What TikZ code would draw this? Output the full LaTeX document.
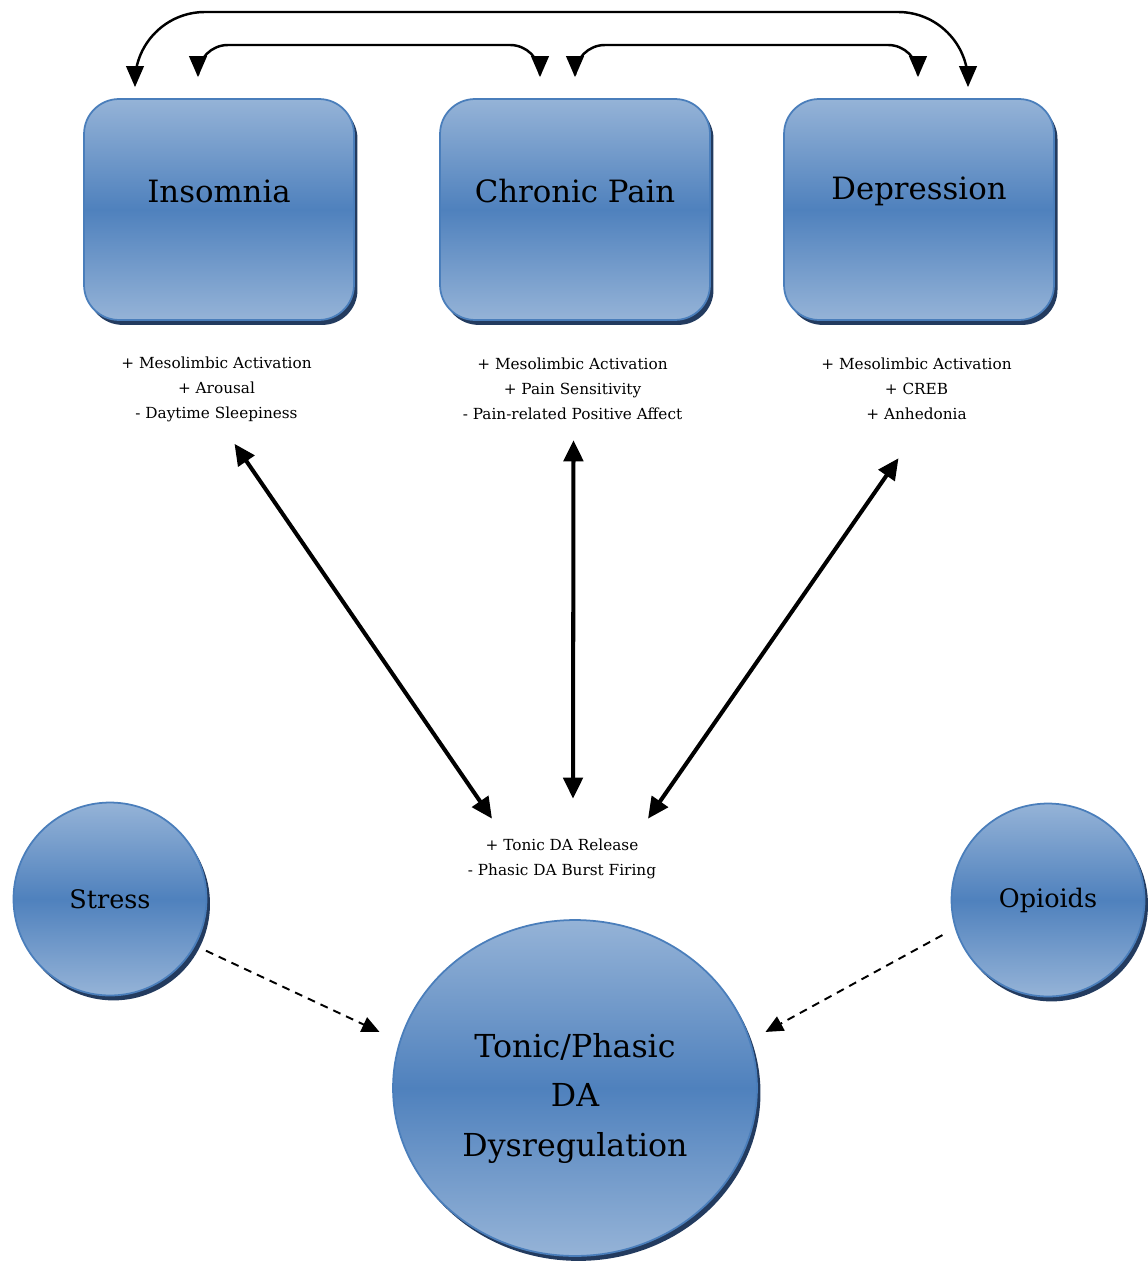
\documentclass[tikz,border=0pt]{standalone}
\usepackage{fontspec}
\setmainfont{DejaVu Serif}
\usepackage{tikz}
\usetikzlibrary{arrows.meta,shadows,shapes.geometric}
\definecolor{boxlight}{HTML}{95B3D7}
\definecolor{boxmid}{HTML}{4F81BD}
\definecolor{boxedge}{HTML}{4A7EBB}
\definecolor{boxshade}{HTML}{233B5F}

\begin{document}
\begin{tikzpicture}[x=0.02cm, y=-0.02cm,
  blob/.style={draw=boxedge, line width=1pt, top color=boxlight, bottom color=boxlight, middle color=boxmid,
    drop shadow={shadow xshift=2pt, shadow yshift=-2.8pt, fill=boxshade, opacity=1}},
  boxnode/.style={blob, rounded corners=0.7cm, minimum width=5.4cm, minimum height=4.42cm},
  dotnode/.style={blob, circle, minimum size=3.86cm, inner sep=0pt, font=\fontsize{14.5}{18}\selectfont},
  effect/.style={align=center, inner sep=0pt, font=\fontsize{8.7}{14.2}\selectfont},
  curvy/.style={line width=1.4pt, {Triangle[length=12pt,width=10pt]}-{Triangle[length=12pt,width=10pt]}},
  link/.style={line width=2.3pt, {Triangle[length=12pt,width=11pt]}-{Triangle[length=12pt,width=11pt]}},
  feed/.style={line width=1.1pt, dash pattern=on 4.5pt off 3.5pt, -{Triangle[length=10pt,width=9pt]}}]

  \useasboundingbox (0,0) rectangle (1147,1263);

  \foreach \n/\x/\t/\e in {ins/219/Insomnia/{+ Mesolimbic Activation\\+ Arousal\\- Daytime Sleepiness},
      pain/575/Chronic Pain/{+ Mesolimbic Activation\\+ Pain Sensitivity\\- Pain-related Positive Affect},
      dep/919/Depression/{+ Mesolimbic Activation\\+ CREB\\+ Anhedonia}} {
    \node[boxnode, label={[font=\fontsize{17.5}{22}\selectfont, yshift=0.37cm]center:\t}] (\n) at (\x, 209.5) {};
    \node[effect] (\n-fx) at (\x-2.5, 389) {\e};
  }

  \node[effect] (da) at (562, 859) {+ Tonic DA Release\\- Phasic DA Burst Firing};

  \node[dotnode] (stress) at (110, 899) {Stress};
  \node[dotnode] (opioids) at (1048, 900) {\raisebox{3pt}{Opioids}};
  \node[blob, ellipse, minimum width=7.28cm, minimum height=6.72cm, inner sep=0pt, align=center,
    font=\fontsize{18}{28.4}\selectfont] (dys) at (575, 1088) {\\[-0.3ex]Tonic/Phasic\\DA\\Dysregulation};

  \coordinate (outer) at (0, 12);
  \coordinate (inner) at (0, 45);
  \coordinate (ins-o) at ([shift={(-84,-11)}]ins.north);
  \coordinate (dep-o) at ([shift={(49,-11)}]dep.north);
  \coordinate (ins-i) at ([shift={(-21,-21)}]ins.north);
  \coordinate (pain-l) at ([shift={(-35,-21)}]pain.north);
  \coordinate (pain-r) at ([shift={(0,-21)}]pain.north);
  \coordinate (dep-i) at ([shift={(-1,-21)}]dep.north);

  \draw[curvy, rounded corners=1.4cm] (ins-o) |- (dep-o |- outer) -- (dep-o);
  \draw[curvy, rounded corners=0.6cm] (ins-i) |- (pain-l |- inner) -- (pain-l);
  \draw[curvy, rounded corners=0.6cm] (pain-r) |- (dep-i |- inner) -- (dep-i);

  \draw[link] ([shift={(18,22)}]ins-fx.south) -- ([shift={(-70,-20)}]da.north);
  \draw[link] ([shift={(1,20)}]pain-fx.south) -- ([shift={(11,-40)}]da.north);
  \draw[link] ([shift={(-18,38)}]dep-fx.south) -- ([shift={(86,-20)}]da.north);

  \draw[feed] ([shift={(10,6)}]stress.-28) -- ([shift={(-23,0)}]dys.162);
  \draw[feed] ([shift={(-13,5)}]opioids.198) -- ([shift={(18,0)}]dys.18);
\end{tikzpicture}
\end{document}
